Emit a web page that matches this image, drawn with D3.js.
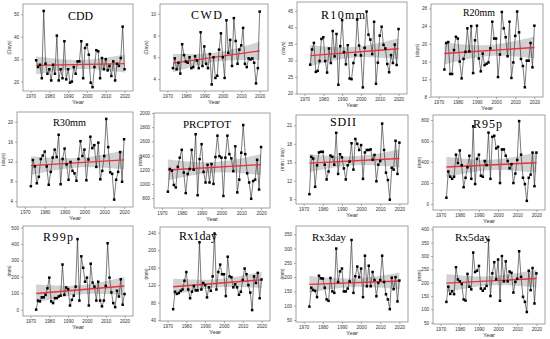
<!DOCTYPE html>
<html><head><meta charset="utf-8">
<script src="https://cdn.jsdelivr.net/npm/d3@7"></script>
<style>body{margin:0;background:#fff}svg{display:block}</style>
</head><body><svg id="c" width="550" height="339"></svg>
<script>
// ---------- data ----------
const years = d3.range(1973, 2021);
const CDD = [29.5,26.5,27.5,21.5,51.5,28,23.5,25.5,20.5,27.5,23.5,40.5,20.5,25.5,21.5,38,21,25.5,19.5,20,26.5,23.5,29,29,38,21.5,35,36.5,32,19.5,17.5,26.5,34,33.5,21.5,30.5,25.5,30,25,27,22.5,29,20.5,28,27,30.5,44.5,25.5];
const CWD = [5.0,5.9,4.9,5.5,4.5,7.2,6.2,5.6,5.5,6.0,5.0,5.1,6.1,5.7,5.0,8.3,5.2,7.0,5.4,5.0,6.3,3.5,6.0,4.1,4.3,6.7,8.2,6.0,4.1,9.4,6.4,7.6,5.2,9.6,7.5,5.4,6.7,7.1,8.7,5.4,5.1,5.9,5.8,5.9,5.5,3.6,5.0,10.2];
const R10mm = [28.7,33.3,35.3,26.5,26.8,29.8,36.5,37.0,29.8,26.3,33.6,29.2,38.9,31.2,38.0,22.6,34.3,42.2,32.5,28.8,34.6,24.5,24.3,29.2,31.6,42.4,34.5,31.5,21.8,33.8,44.8,37.8,36.3,31.9,41.7,22.9,29.3,37.5,40.2,34.7,33.6,28.9,26.4,31.6,29.2,34.8,28.6,39.5];
const R20mm = [14.2,20.2,20.4,13.2,13.2,18.6,21.6,21.2,16.0,12.2,16.6,18.2,23.5,18.3,24.0,13.4,20.8,24.1,16.7,13.8,17.8,15.2,15.5,15.8,19.0,25.0,21.2,21.2,12.5,17.6,27.2,23.5,21.5,17.2,25.0,12.3,15.8,21.8,27.3,22.6,16.6,15.0,10.2,16.2,16.2,20.2,14.7,24.1];
const R30mm = [7.0,12.3,11.0,7.6,8.9,12.5,13.2,14.0,11.0,7.3,9.9,12.8,14.4,12.9,17.4,7.4,12.5,14.6,11.4,8.3,11.9,10.1,9.6,8.1,12.5,16.1,13.1,14.4,8.2,12.4,17.0,14.7,15.3,10.9,15.8,8.4,10.1,13.1,20.6,14.9,9.8,9.5,4.3,8.3,9.9,13.9,7.9,16.5];
const PRCPTOT = [890,1210,1185,985,950,1240,1370,1480,1160,870,1140,1210,1480,1200,1700,840,1350,1560,1170,1020,1270,1020,1280,1000,1380,1680,1390,1370,830,1370,1680,1420,1360,1180,1530,880,1060,1440,1830,1420,1150,1020,790,1040,1060,1340,920,1520];
const SDII = [9.8,15.9,15.6,11.0,14.5,16.6,16.7,16.7,14.6,12.2,13.5,16.1,15.9,14.6,19.8,13.1,16.3,15.8,14.0,12.2,14.5,15.1,18.1,13.8,18.8,18.0,17.0,17.8,12.3,16.6,17.0,17.0,17.1,15.4,16.2,11.9,14.6,15.2,21.3,17.0,13.3,12.1,8.9,14.1,13.8,18.5,13.1,18.2];
const R95p = [60,310,260,240,260,470,390,510,370,160,250,350,460,240,740,190,430,470,270,260,410,370,680,240,640,650,530,545,200,520,520,460,410,340,380,200,290,420,790,470,250,190,30,250,280,490,170,490];
const R99p = [0,55,50,75,75,90,130,195,50,40,70,70,80,85,275,90,135,125,25,60,85,140,430,55,325,255,170,195,25,280,165,140,55,170,55,20,55,145,405,195,105,40,15,115,80,185,30,95];
const Rx1day = [65,105,100,102,107,110,130,150,110,90,105,118,108,108,218,110,125,120,92,115,107,140,238,110,150,167,145,145,95,185,140,138,115,122,115,98,105,132,158,145,120,103,63,140,125,148,90,133];
const Rx3day = [97,163,155,152,130,205,196,195,163,122,117,197,150,145,300,183,220,230,150,150,160,185,330,145,203,237,200,230,130,275,168,240,168,218,190,133,180,190,275,183,140,122,88,198,158,200,115,188];
const Rx5day = [128,185,158,168,157,258,212,205,195,137,133,233,185,175,313,240,245,263,178,170,178,188,360,150,235,277,213,287,132,300,205,280,205,242,237,163,203,215,318,222,147,128,90,245,172,255,122,235];

const indexNames = ["CDD","CWD","R10mm","R20mm","R30mm","PRCPTOT","SDII","R95p","R99p","Rx1day","Rx3day","Rx5day"];
const unitLabels = ["(Days)","(Days)","(days)","(days)","(days)","(mm)","(mm / day)","(mm)","(mm)","(mm)","(mm)","(mm)"];
const yTickValues = [[20,30,40,50],[4,6,8,10],[20,25,30,35,40,45],[8,12,16,20,24,28],[4,8,12,16,20],[800,1000,1200,1400,1600,1800,2000],[9,12,15,18,21],[0,200,400,600,800],[0,100,200,300,400,500],[40,80,120,160,200,240],[50,100,150,200,250,300,350],[50,100,150,200,250,300,350,400]];
const yRanges = [[15.8,54.6],[2.9,10.9],[19.8,47.7],[8,29],[2.8,22],[660,2000],[8.2,22.7],[-57,848],[-39,510],[38,253],[43,379],[45,409]];
const xTickValues = [1970,1980,1990,2000,2010,2020];
const xRange = [1966,2024.5];
const seriesList = [CDD,CWD,R10mm,R20mm,R30mm,PRCPTOT,SDII,R95p,R99p,Rx1day,Rx3day,Rx5day];

// ---------- layout (pixels) ----------
const frames = [[23,4,133,91],[160,4,268,91],[297,2,407,94],[431,4,543,97],
                [17,112,133,207],[154,113,270,208],[296,115,408,204],[433,115,545,210],
                [23,226,133,316],[160,227,270,321],[296,226,408,322],[433,227,545,324]];
const titlePos = [[68,20,25],[191,19,31],[321,19,44],[463,16,32],
                  [53,126,33],[183,128,48],[330,126,26],[473,128,29],
                  [43,241,30],[179,240,38],[312,241,34],[455,241,35]];

const svg = d3.select("#c");
const tcrit = 2.013;

seriesList.forEach((vals, i) => {
  const [x0,y0,x1,y1] = frames[i];
  const g = svg.append("g");
  const x = d3.scaleLinear().domain(xRange).range([x0,x1]);
  const y = d3.scaleLinear().domain(yRanges[i]).range([y1,y0]);

  // regression + 95% CI
  const n = years.length, mx = d3.mean(years), my = d3.mean(vals);
  let sxx=0, sxy=0;
  years.forEach((t,k)=>{sxx+=(t-mx)**2; sxy+=(t-mx)*(vals[k]-my);});
  const b = sxy/sxx, a = my - b*mx;
  const sse = d3.sum(years,(t,k)=>(vals[k]-a-b*t)**2);
  const s = Math.sqrt(sse/(n-2));
  const grid = d3.range(years[0], years[n-1]+0.01, 0.5);
  const band = grid.map(t=>{const f=a+b*t; const se=s*Math.sqrt(1/n+(t-mx)**2/sxx); return {t, lo:f-tcrit*se, hi:f+tcrit*se};});

  g.append("path").datum(band)
    .attr("d", d3.area().x(d=>x(d.t)).y0(d=>y(d.lo)).y1(d=>y(d.hi)))
    .attr("fill","#d2d2d2");

  g.append("rect").attr("x",x0).attr("y",y0).attr("width",x1-x0).attr("height",y1-y0)
    .attr("fill","none").attr("stroke","#8a8a8a").attr("stroke-width",0.8);

  // axes
  const ya = g.append("g").attr("transform",`translate(${x0},0)`)
    .call(d3.axisLeft(y).tickValues(yTickValues[i]).tickFormat(d3.format("d")).tickSize(2).tickPadding(2));
  const xa = g.append("g").attr("transform",`translate(0,${y1})`)
    .call(d3.axisBottom(x).tickValues(xTickValues).tickFormat(d3.format("d")).tickSize(2).tickPadding(2));
  [ya,xa].forEach(ax=>{
    ax.select(".domain").remove();
    ax.selectAll("line").attr("stroke","#777").attr("stroke-width",0.6);
    ax.selectAll("text").attr("font-size",4.6).attr("font-family","Liberation Sans, Arial, sans-serif").attr("fill","#333");
  });

  // line + points
  g.append("path").datum(vals)
    .attr("d", d3.line().x((d,k)=>x(years[k])).y(d=>y(d)))
    .attr("fill","none").attr("stroke","#222").attr("stroke-width",0.6);

  // trend
  g.append("line")
    .attr("x1",x(years[0])).attr("y1",y(a+b*years[0]))
    .attr("x2",x(years[n-1])).attr("y2",y(a+b*years[n-1]))
    .attr("stroke","#e8323c").attr("stroke-width",1.4);

  g.selectAll("rect.pt").data(vals).join("rect").attr("class","pt")
    .attr("x",(d,k)=>x(years[k])-1.25).attr("y",d=>y(d)-1.25)
    .attr("width",2.5).attr("height",2.5).attr("fill","#000");

  // title
  const [tx,ty,tw] = titlePos[i];
  const tt = g.append("text").attr("x",tx).attr("y",ty).text(indexNames[i])
    .attr("font-family","Liberation Serif, Times New Roman, serif").attr("font-size",12).attr("fill","#000");
  const natural = tt.node().getComputedTextLength();
  if (natural > tw) tt.attr("font-size", 12*tw/natural);
  else tt.attr("textLength",tw).attr("lengthAdjust","spacing");

  // axis titles
  g.append("text").attr("x",(x0+x1)/2).attr("y",y1+13).attr("text-anchor","middle")
    .attr("font-family","Liberation Sans, Arial, sans-serif").attr("font-size",6).attr("fill","#333").text("Year");
  g.append("text").attr("transform",`translate(${x0-12},${(y0+y1)/2}) rotate(-90)`)
    .attr("text-anchor","middle").attr("font-family","Liberation Sans, Arial, sans-serif")
    .attr("font-size",4.8).attr("fill","#333").text(unitLabels[i]);
});
</script></body></html>
